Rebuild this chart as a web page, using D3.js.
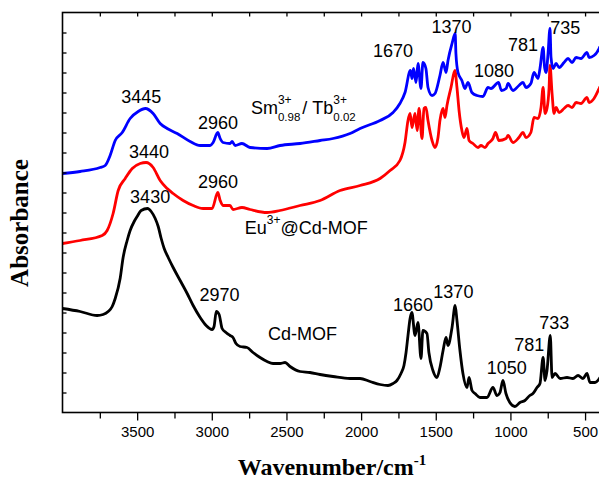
<!DOCTYPE html>
<html>
<head>
<meta charset="utf-8">
<script src="https://cdn.jsdelivr.net/npm/d3@7"></script>
<style>
  html, body { margin: 0; padding: 0; background: #fff; }
  svg { display: block; }
</style>
</head>
<body>
<svg id="chart" width="599" height="479"></svg>
<script>
// FT-IR spectra (absorbance, curves offset vertically), wavenumber in cm^-1

// Cd-MOF (black)
const cdWave = [4000, 3882, 3768, 3728, 3694, 3667, 3647, 3614, 3594, 3567, 3547, 3520, 3500, 3473, 3430,
  3406, 3379, 3359, 3339, 3319, 3292, 3259, 3212, 3165, 3125, 3078, 3038, 2998, 2985, 2970, 2951, 2931,
  2905, 2878, 2858, 2838, 2811, 2764, 2724, 2677, 2630, 2590, 2543, 2509, 2476, 2409, 2343, 2275, 2188,
  2074, 2007, 1940, 1873, 1820, 1786, 1760, 1733, 1713, 1699, 1686, 1672, 1660, 1639, 1619, 1599, 1586,
  1559, 1546, 1519, 1492, 1472, 1451, 1431, 1418, 1391, 1370, 1358, 1338, 1318, 1291, 1277, 1257, 1237,
  1204, 1157, 1117, 1090, 1070, 1050, 1030, 1004, 970, 936, 903, 870, 849, 822, 802, 781, 768, 755, 733,
  721, 701, 667, 621, 581, 547, 514, 487, 467, 433, 400];
const cdAbs = [1.04, 1.01, 0.97, 0.98, 1.01, 1.06, 1.14, 1.34, 1.55, 1.72, 1.82, 1.91, 1.96, 2.02, 2.04,
  2.01, 1.94, 1.86, 1.74, 1.64, 1.55, 1.45, 1.32, 1.19, 1.07, 0.95, 0.87, 0.83, 0.86, 1.01, 0.98, 0.84,
  0.80, 0.77, 0.75, 0.69, 0.66, 0.65, 0.60, 0.55, 0.51, 0.49, 0.49, 0.50, 0.46, 0.41, 0.40, 0.38, 0.36,
  0.34, 0.34, 0.31, 0.28, 0.27, 0.29, 0.32, 0.39, 0.47, 0.60, 0.77, 0.94, 1.00, 0.77, 0.90, 0.54, 0.82,
  0.79, 0.60, 0.42, 0.35, 0.45, 0.62, 0.75, 0.67, 0.85, 1.07, 0.92, 0.62, 0.39, 0.25, 0.35, 0.22, 0.19,
  0.15, 0.15, 0.25, 0.17, 0.20, 0.32, 0.19, 0.10, 0.06, 0.10, 0.12, 0.17, 0.19, 0.25, 0.29, 0.55, 0.32,
  0.42, 0.77, 0.35, 0.39, 0.34, 0.35, 0.34, 0.37, 0.34, 0.39, 0.30, 0.30, 0.35];

// Eu3+@Cd-MOF (red)
const euWave = [4000, 3882, 3734, 3701, 3661, 3627, 3580, 3533, 3480, 3440, 3393, 3346, 3299, 3259, 3192,
  3125, 3058, 2998, 2960, 2944, 2925, 2878, 2858, 2798, 2744, 2630, 2543, 2409, 2275, 2141, 2007, 1873,
  1806, 1740, 1706, 1686, 1672, 1659, 1639, 1625, 1612, 1592, 1579, 1566, 1552, 1525, 1505, 1485, 1472,
  1451, 1438, 1425, 1398, 1372, 1358, 1344, 1325, 1311, 1291, 1277, 1251, 1217, 1197, 1170, 1150, 1117,
  1100, 1077, 1029, 1016, 983, 943, 916, 896, 863, 842, 815, 795, 781, 768, 755, 741, 735, 721, 708, 694,
  674, 641, 614, 587, 560, 527, 487, 473, 440, 406, 400];
const euAbs = [1.69, 1.72, 1.77, 1.82, 1.99, 2.22, 2.34, 2.44, 2.49, 2.50, 2.45, 2.32, 2.24, 2.19, 2.12,
  2.07, 2.04, 2.04, 2.20, 2.12, 2.07, 2.07, 2.03, 2.05, 2.03, 2.00, 2.02, 2.07, 2.12, 2.22, 2.27, 2.34,
  2.42, 2.52, 2.70, 2.92, 2.99, 2.85, 2.99, 2.82, 3.04, 2.74, 3.04, 3.05, 2.92, 2.72, 2.65, 2.75, 2.92,
  3.04, 2.95, 3.07, 3.25, 3.42, 3.25, 3.02, 2.82, 2.75, 2.84, 2.72, 2.69, 2.65, 2.67, 2.65, 2.69, 2.74,
  2.80, 2.72, 2.74, 2.77, 2.70, 2.75, 2.80, 2.75, 2.80, 2.95, 2.94, 3.05, 3.25, 2.99, 3.04, 3.25, 3.47,
  3.19, 2.99, 3.05, 3.00, 3.04, 3.07, 3.05, 3.10, 3.09, 3.15, 3.10, 3.14, 3.24, 3.26];

// Sm3+0.98/Tb3+0.02 (blue)
const smWave = [4000, 3882, 3748, 3714, 3681, 3647, 3600, 3547, 3493, 3445, 3393, 3346, 3299, 3232, 3145,
  3078, 3011, 2991, 2960, 2944, 2925, 2878, 2864, 2844, 2798, 2744, 2630, 2543, 2409, 2275, 2188, 2074,
  2007, 1873, 1786, 1740, 1706, 1670, 1659, 1649, 1632, 1619, 1599, 1586, 1566, 1552, 1525, 1505, 1472,
  1451, 1431, 1418, 1391, 1370, 1365, 1351, 1325, 1305, 1284, 1258, 1224, 1184, 1150, 1130, 1080, 1060,
  1029, 1016, 983, 943, 916, 896, 863, 842, 815, 802, 781, 771, 761, 748, 735, 728, 714, 694, 674, 641,
  614, 587, 560, 527, 487, 473, 440, 406, 400];
const smAbs = [2.39, 2.41, 2.45, 2.47, 2.57, 2.72, 2.80, 2.94, 3.01, 3.04, 2.99, 2.89, 2.84, 2.79, 2.71,
  2.67, 2.67, 2.70, 2.80, 2.74, 2.70, 2.69, 2.71, 2.67, 2.69, 2.65, 2.64, 2.67, 2.69, 2.72, 2.74, 2.79,
  2.84, 2.92, 3.00, 3.09, 3.20, 3.42, 3.34, 3.44, 3.30, 3.49, 3.24, 3.50, 3.44, 3.25, 3.17, 3.19, 3.37,
  3.50, 3.40, 3.52, 3.69, 3.79, 3.59, 3.40, 3.32, 3.24, 3.30, 3.20, 3.17, 3.16, 3.25, 3.24, 3.30, 3.22,
  3.24, 3.29, 3.22, 3.27, 3.30, 3.25, 3.29, 3.40, 3.34, 3.44, 3.65, 3.45, 3.40, 3.59, 3.84, 3.55, 3.44,
  3.49, 3.45, 3.50, 3.54, 3.50, 3.55, 3.54, 3.60, 3.55, 3.57, 3.64, 3.66];

const seriesColors = ["#000000", "#ff0000", "#0000ff"];

// axis ticks
const majorTicks = [3500, 3000, 2500, 2000, 1500, 1000, 500];
const minorTicks = [3750, 3250, 2750, 2250, 1750, 1250, 750];
const absTicks = d3.range(1, 20).map(i => i * 0.2);

// peak annotations: text, centre wavenumber, baseline absorbance
const peakText = ["3445", "2960", "1670", "1370", "1080", "781", "735",
                  "3440", "2960",
                  "3430", "2970", "1660", "1370", "1050", "781", "733"];
const peakAtWave = [3473, 2958, 1787, 1395, 1110, 916, 632,
                    3420, 2958,
                    3413, 2948, 1653, 1382, 1025, 873, 706];
const peakAtAbs = [3.10, 2.84, 3.56, 3.80, 3.36, 3.62, 3.79,
                   2.55, 2.25,
                   2.10, 1.12, 1.02, 1.15, 0.39, 0.62, 0.84];

const svg = d3.select("#chart");
const x = d3.scaleLinear().domain([4000, 400]).range([62.5, 600]);
const y = d3.scaleLinear().domain([0, 4]).range([412.5, 12.5]);

const sansFont = "'Liberation Sans', Arial, sans-serif";
const serifFont = "'Liberation Serif', 'Times New Roman', serif";

// spectra
const line = d3.line().x(d => x(d[0])).y(d => y(d[1])).curve(d3.curveMonotoneX);
const spectra = [
  d3.zip(cdWave, cdAbs),
  d3.zip(euWave, euAbs),
  d3.zip(smWave, smAbs)
];
svg.append("defs").append("clipPath").attr("id", "plotClip")
  .append("rect").attr("x", 62.5).attr("y", 12.5).attr("width", 537.5).attr("height", 400);
svg.append("g").attr("clip-path", "url(#plotClip)")
  .selectAll("path").data(spectra).join("path")
  .attr("d", line)
  .attr("fill", "none")
  .attr("stroke", (d, i) => seriesColors[i])
  .attr("stroke-width", 2.8)
  .attr("stroke-linejoin", "round");

// axes
function styleAxis(g) {
  g.select(".domain").remove();
  g.selectAll(".tick line").attr("stroke", "#000").attr("stroke-width", 1.3);
}
svg.append("g").attr("transform", `translate(0,${y(0)})`)
  .call(d3.axisBottom(x).tickValues(majorTicks).tickSize(8).tickPadding(6).tickFormat(d3.format("d")))
  .call(styleAxis)
  .call(g => g.selectAll("text").attr("font-family", sansFont).attr("font-size", 15).attr("fill", "#000"));
svg.append("g").attr("transform", `translate(0,${y(0)})`)
  .call(d3.axisBottom(x).tickValues(minorTicks).tickSize(6).tickFormat(""))
  .call(styleAxis);
svg.append("g").attr("transform", `translate(0,${y(4)})`)
  .call(d3.axisTop(x).tickValues(majorTicks.concat(minorTicks)).tickSize(-4).tickFormat(""))
  .call(styleAxis);
svg.append("g").attr("transform", `translate(${x(4000)},0)`)
  .call(d3.axisLeft(y).tickValues(absTicks).tickSize(-4).tickFormat(""))
  .call(styleAxis);

// frame
svg.append("rect")
  .attr("x", x(4000)).attr("y", y(4))
  .attr("width", x(400) - x(4000)).attr("height", y(0) - y(4))
  .attr("fill", "none").attr("stroke", "#000").attr("stroke-width", 1.6);

// axis titles
const xt = svg.append("text")
  .attr("x", 332).attr("y", 475)
  .attr("text-anchor", "middle")
  .attr("font-family", serifFont).attr("font-weight", "bold").attr("font-size", 24);
xt.append("tspan").text("Wavenumber/cm");
xt.append("tspan").attr("dy", -10).attr("font-size", 15).text("-1");

svg.append("text")
  .attr("transform", "translate(28,223) rotate(-90)")
  .attr("text-anchor", "middle")
  .attr("font-family", serifFont).attr("font-weight", "bold").attr("font-size", 25)
  .text("Absorbance");

// peak labels
svg.append("g").selectAll("text")
  .data(d3.zip(peakText, peakAtWave, peakAtAbs)).join("text")
  .attr("x", d => x(d[1])).attr("y", d => y(d[2]))
  .attr("text-anchor", "middle")
  .attr("font-family", sansFont).attr("font-size", 18).attr("fill", "#000")
  .text(d => d[0]);

// series labels
const lab = svg.append("g").attr("font-family", sansFont).attr("fill", "#000");
function ionLabel(x0, base, ion, sup, sub) {
  const t = lab.append("text").attr("x", x0).attr("y", base).attr("font-size", 18).text(ion);
  const w = t.node().getComputedTextLength();
  const p = lab.append("text").attr("x", x0 + w).attr("y", base - 10).attr("font-size", 12).text(sup);
  let w2 = p.node().getComputedTextLength();
  if (sub) {
    const s = lab.append("text").attr("x", x0 + w).attr("y", base + 7).attr("font-size", 11.5).text(sub);
    w2 = Math.max(w2, s.node().getComputedTextLength());
  }
  return x0 + w + w2;
}
// Sm3+0.98 / Tb3+0.02
let xs = ionLabel(x(2738), y(2.99), "Sm", "3+", "0.98");
lab.append("text").attr("x", xs + 2).attr("y", y(2.99)).attr("font-size", 18).text("/");
ionLabel(xs + 12, y(2.99), "Tb", "3+", "0.02");
// Eu3+@Cd-MOF
xs = ionLabel(x(2779), y(1.79), "Eu", "3+", null);
lab.append("text").attr("x", xs).attr("y", y(1.79)).attr("font-size", 18).text("@Cd-MOF");
// Cd-MOF
lab.append("text").attr("x", x(2624)).attr("y", y(0.73)).attr("font-size", 18).text("Cd-MOF");
</script>
</body>
</html>
